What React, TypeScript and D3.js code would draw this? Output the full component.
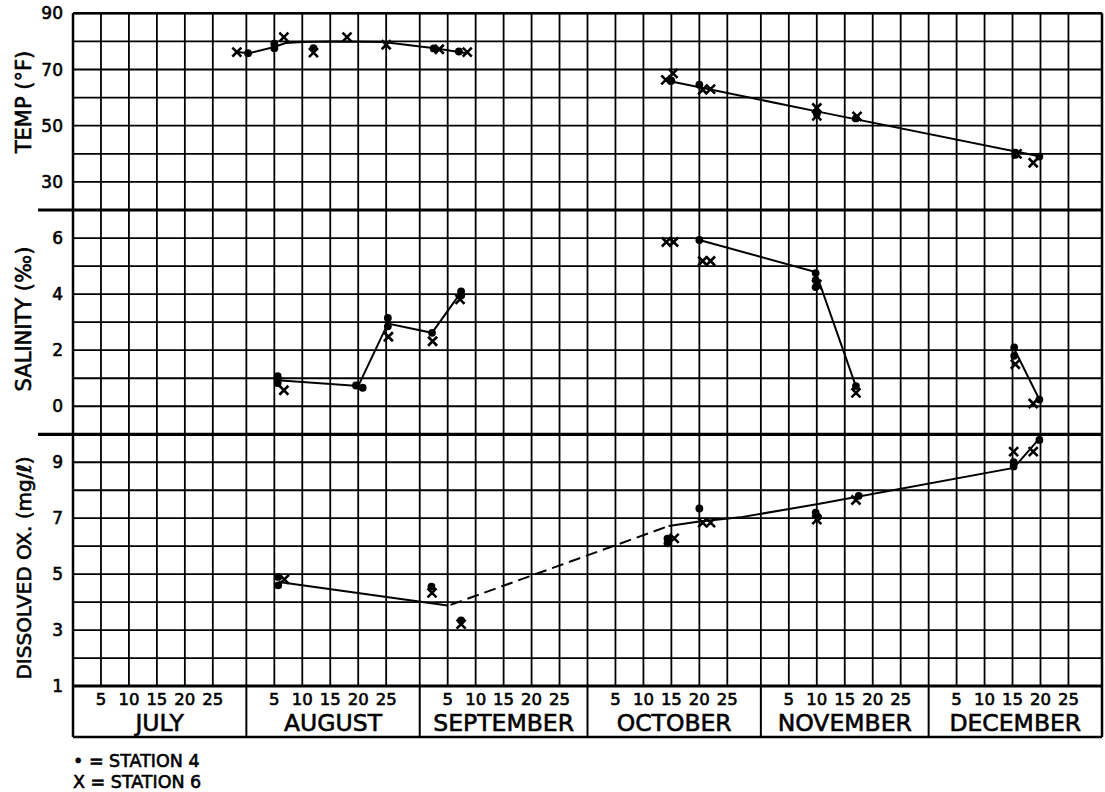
import React from "react";
import * as d3 from "d3";

// Each observation: [month (1-12), day of month, value]
type Obs = [number, number, number];

const MONTH_NAMES = ["JULY", "AUGUST", "SEPTEMBER", "OCTOBER", "NOVEMBER", "DECEMBER"];
const MONTH_NUMBERS = [7, 8, 9, 10, 11, 12];
const DAY_TICKS = [5, 10, 15, 20, 25];

const TEMP_TICKS = [30, 50, 70, 90];
const SAL_TICKS = [0, 2, 4, 6];
const DO_TICKS = [1, 3, 5, 7, 9];

// Temperature (°F)
const TEMP_ST4: Obs[] = [
  [7, 31.3, 75.8], [8, 5, 79.2], [8, 5, 77.6], [8, 12, 77.6], [9, 2.5, 77.5],
  [9, 7, 76.4], [10, 15, 66], [10, 20, 64.6], [11, 10, 55], [11, 10, 54.2],
  [11, 17, 52.6], [12, 15.5, 40.4], [12, 15.5, 39.6], [12, 19.8, 39],
];
const TEMP_ST6: Obs[] = [
  [7, 29.3, 76.2], [8, 6.7, 81.5], [8, 12, 76], [8, 18, 81.5], [8, 25, 78.8],
  [9, 3.5, 77.2], [9, 8.5, 76.2], [10, 14, 66.3], [10, 15.3, 68.6],
  [10, 20.6, 62.8], [10, 22, 63], [11, 10, 56.3], [11, 10, 53.5], [11, 17.2, 53.3],
  [12, 15.8, 40], [12, 18.7, 36.8],
];
const TEMP_TREND_SUMMER: Obs[] = [
  [7, 29.3, 76.2], [7, 31.5, 75.8], [8, 5, 78], [8, 7, 79.4], [8, 10, 79.8],
  [8, 16, 80], [8, 24.5, 79.8], [9, 3, 77.5], [9, 8.4, 75.8],
];
const TEMP_TREND_FALL: Obs[] = [
  [10, 15, 65.7], [11, 10, 55.1], [12, 19.8, 39.1],
];

// Salinity (‰)
const SAL_ST4: Obs[] = [
  [8, 5.6, 1.07], [8, 5.6, 0.95], [8, 5.6, 0.83], [8, 19.6, 0.74], [8, 20.8, 0.66],
  [8, 25.3, 3.15], [8, 25.3, 2.85], [9, 2.2, 2.62], [9, 7.4, 4.1], [9, 7.4, 3.95],
  [10, 20, 5.93], [11, 9.8, 4.75], [11, 9.8, 4.5], [11, 9.8, 4.25], [11, 17, 0.72],
  [12, 15.3, 2.1], [12, 15.3, 1.8], [12, 19.8, 0.24],
];
const SAL_ST6: Obs[] = [
  [8, 6.7, 0.57], [8, 25.4, 2.48], [9, 2.3, 2.32], [9, 7.2, 3.81],
  [10, 14.1, 5.86], [10, 15.4, 5.86], [10, 20.6, 5.18], [10, 22, 5.18],
  [11, 10, 4.35], [11, 17, 0.48], [12, 15.5, 1.5], [12, 18.7, 0.1],
];
const SAL_TREND_A: Obs[] = [
  [8, 5.6, 0.93], [8, 20, 0.72], [8, 25.3, 2.95], [9, 2.2, 2.62], [9, 7.4, 4.07],
];
const SAL_TREND_B: Obs[] = [[10, 20, 5.93], [11, 9.8, 4.79], [11, 17, 0.71]];
const SAL_TREND_C: Obs[] = [[12, 15.3, 2.05], [12, 19.8, 0.24]];

// Dissolved oxygen (mg/ℓ)
const DO_ST4: Obs[] = [
  [8, 5.7, 4.9], [8, 5.7, 4.6], [9, 2.1, 4.55], [9, 7.4, 3.35],
  [10, 14.3, 6.27], [10, 14.3, 6.1], [10, 20, 7.35], [11, 9.8, 7.2], [11, 10.2, 7.05],
  [11, 17.5, 7.8], [12, 15.2, 9.0], [12, 15.2, 8.85], [12, 19.8, 9.8],
];
const DO_ST6: Obs[] = [
  [8, 6.8, 4.81], [9, 2.2, 4.33], [9, 7.4, 3.21], [10, 15.5, 6.28],
  [10, 20.6, 6.84], [10, 22, 6.84], [11, 10, 6.95], [11, 17, 7.65],
  [12, 15.2, 9.38], [12, 18.7, 9.38],
];
const DO_TREND_A: Obs[] = [[8, 5.8, 4.72], [9, 5, 3.88]];
const DO_TREND_GAP: Obs[] = [[9, 5.5, 3.9], [10, 14.5, 6.72]];
const DO_TREND_B: Obs[] = [
  [10, 14.5, 6.72], [10, 20, 6.88], [10, 27.3, 7.03], [11, 10, 7.5],
  [12, 15.2, 8.8], [12, 19.6, 9.8],
];

const W = 1105;
const H = 792;
const LEFT = 73;
const RIGHT = 1102;
const FONT = "'DejaVu Sans', 'Liberation Sans', sans-serif";

// day 0 of a month is the last day of the previous month
const toDate = (m: number, d: number) => new Date(Date.UTC(2001, m - 1, 0) + d * 864e5);

const x = d3.scaleUtc().domain([toDate(7, 0), toDate(12, 31)]).range([LEFT, RIGHT]);

const yTemp = d3.scaleLinear().domain([20, 90]).range([210, 13.3]);
const ySal = d3.scaleLinear().domain([-1, 7]).range([434.3, 210]);
const yDO = d3.scaleLinear().domain([1, 10]).range([686, 434.3]);

const GRID_BOTTOM = 686;
const BOX_BOTTOM = 737;

function Panel({
  y, rows, st4, st6, trends, dashed,
}: {
  y: d3.ScaleLinear<number, number>;
  rows: number[];
  st4: Obs[];
  st6: Obs[];
  trends: Obs[][];
  dashed?: Obs[][];
}) {
  const line = d3.line<Obs>().x((o) => x(toDate(o[0], o[1]))).y((o) => y(o[2]));
  const [y0, y1] = y.range();
  const vLines: Date[] = [];
  MONTH_NUMBERS.forEach((m) => {
    DAY_TICKS.forEach((d) => vLines.push(toDate(m, d)));
    vLines.push(toDate(m, 0));
  });
  return (
    <g>
      {rows.map((r) => (
        <line key={"h" + r} x1={LEFT} x2={RIGHT} y1={y(r)} y2={y(r)} stroke="#000" strokeWidth={1.8} />
      ))}
      {vLines.map((d, i) => (
        <line key={"v" + i} x1={x(d)} x2={x(d)} y1={y0} y2={y1} stroke="#000" strokeWidth={1.8} />
      ))}
      {trends.map((t, i) => (
        <path key={"t" + i} d={line(t) || ""} fill="none" stroke="#000" strokeWidth={2} />
      ))}
      {(dashed || []).map((t, i) => (
        <path key={"d" + i} d={line(t) || ""} fill="none" stroke="#000" strokeWidth={2} strokeDasharray="12 6" />
      ))}
      {st4.map((o, i) => (
        <circle key={"p4" + i} cx={x(toDate(o[0], o[1]))} cy={y(o[2])} r={3.9} fill="#000" />
      ))}
      {st6.map((o, i) => {
        const cx = x(toDate(o[0], o[1]));
        const cy = y(o[2]);
        const s = 4.5;
        return (
          <path
            key={"p6" + i}
            d={`M${cx - s},${cy - s}L${cx + s},${cy + s}M${cx - s},${cy + s}L${cx + s},${cy - s}`}
            stroke="#000"
            strokeWidth={2.6}
            fill="none"
          />
        );
      })}
    </g>
  );
}

export default function App() {
  const textStyle = { fontFamily: FONT, fill: "#000", stroke: "#000", strokeWidth: 0.6 } as const;
  const monthStarts = MONTH_NUMBERS.map((m) => toDate(m, 0));
  return (
    <svg
      width={W}
      height={H}
      viewBox={`0 0 ${W} ${H}`}
      style={{ position: "absolute", left: 0, top: 0, background: "#fff" }}
    >
      <rect width={W} height={H} fill="#fff" />

      <Panel y={yTemp} rows={d3.range(20, 91, 10)} st4={TEMP_ST4} st6={TEMP_ST6}
        trends={[TEMP_TREND_SUMMER, TEMP_TREND_FALL]} />
      <Panel y={ySal} rows={d3.range(-1, 8, 1)} st4={SAL_ST4} st6={SAL_ST6}
        trends={[SAL_TREND_A, SAL_TREND_B, SAL_TREND_C]} />
      <Panel y={yDO} rows={d3.range(1, 11, 1)} st4={DO_ST4} st6={DO_ST6}
        trends={[DO_TREND_A, DO_TREND_B]} dashed={[DO_TREND_GAP]} />

      {/* outer frame and panel separators */}
      <line x1={LEFT} x2={RIGHT} y1={yTemp(90)} y2={yTemp(90)} stroke="#000" strokeWidth={2.5} />
      <line x1={38} x2={RIGHT} y1={yTemp(20)} y2={yTemp(20)} stroke="#000" strokeWidth={3.2} />
      <line x1={38} x2={RIGHT} y1={ySal(-1)} y2={ySal(-1)} stroke="#000" strokeWidth={3.2} />
      <line x1={LEFT} x2={RIGHT} y1={GRID_BOTTOM} y2={GRID_BOTTOM} stroke="#000" strokeWidth={3} />
      <line x1={LEFT} x2={RIGHT} y1={BOX_BOTTOM} y2={BOX_BOTTOM} stroke="#000" strokeWidth={2.5} />
      <line x1={LEFT} x2={LEFT} y1={yTemp(90)} y2={BOX_BOTTOM} stroke="#000" strokeWidth={2.5} />
      <line x1={RIGHT} x2={RIGHT} y1={yTemp(90)} y2={BOX_BOTTOM} stroke="#000" strokeWidth={2.5} />
      {monthStarts.slice(1).map((d, i) => (
        <line key={"mb" + i} x1={x(d)} x2={x(d)} y1={GRID_BOTTOM} y2={BOX_BOTTOM} stroke="#000" strokeWidth={2} />
      ))}

      {/* y tick labels */}
      {TEMP_TICKS.map((t) => (
        <text key={"tt" + t} x={63} y={yTemp(t)} dy="0.36em" textAnchor="end" fontSize={17} style={textStyle}>{t}</text>
      ))}
      {SAL_TICKS.map((t) => (
        <text key={"st" + t} x={63} y={ySal(t)} dy="0.36em" textAnchor="end" fontSize={17} style={textStyle}>{t}</text>
      ))}
      {DO_TICKS.map((t) => (
        <text key={"dt" + t} x={63} y={yDO(t)} dy="0.36em" textAnchor="end" fontSize={17} style={textStyle}>{t}</text>
      ))}

      {/* y axis titles */}
      <text transform="translate(31,102) rotate(-90)" textAnchor="middle" fontSize={21} style={textStyle}>TEMP (°F)</text>
      <text transform="translate(31,319) rotate(-90)" textAnchor="middle" fontSize={21} style={textStyle}>SALINITY (‰)</text>
      <text transform="translate(31,568) rotate(-90)" textAnchor="middle" fontSize={20} style={textStyle}>DISSOLVED OX. (mg/ℓ)</text>

      {/* day and month labels */}
      {MONTH_NUMBERS.map((m, i) => (
        <g key={"ml" + m}>
          {DAY_TICKS.map((d) => (
            <text key={d} x={x(toDate(m, d))} y={705} textAnchor="middle" fontSize={16.5} style={textStyle}>{d}</text>
          ))}
          <text
            x={(x(toDate(m, 0)) + x(toDate(m + 1, 0))) / 2}
            y={731}
            textAnchor="middle"
            fontSize={23.5}
            style={textStyle}
          >
            {MONTH_NAMES[i]}
          </text>
        </g>
      ))}

      {/* legend */}
      <text x={73} y={767} fontSize={17.5} style={textStyle}>• = STATION 4</text>
      <text x={73} y={788} fontSize={17.5} style={textStyle}>X = STATION 6</text>
    </svg>
  );
}
